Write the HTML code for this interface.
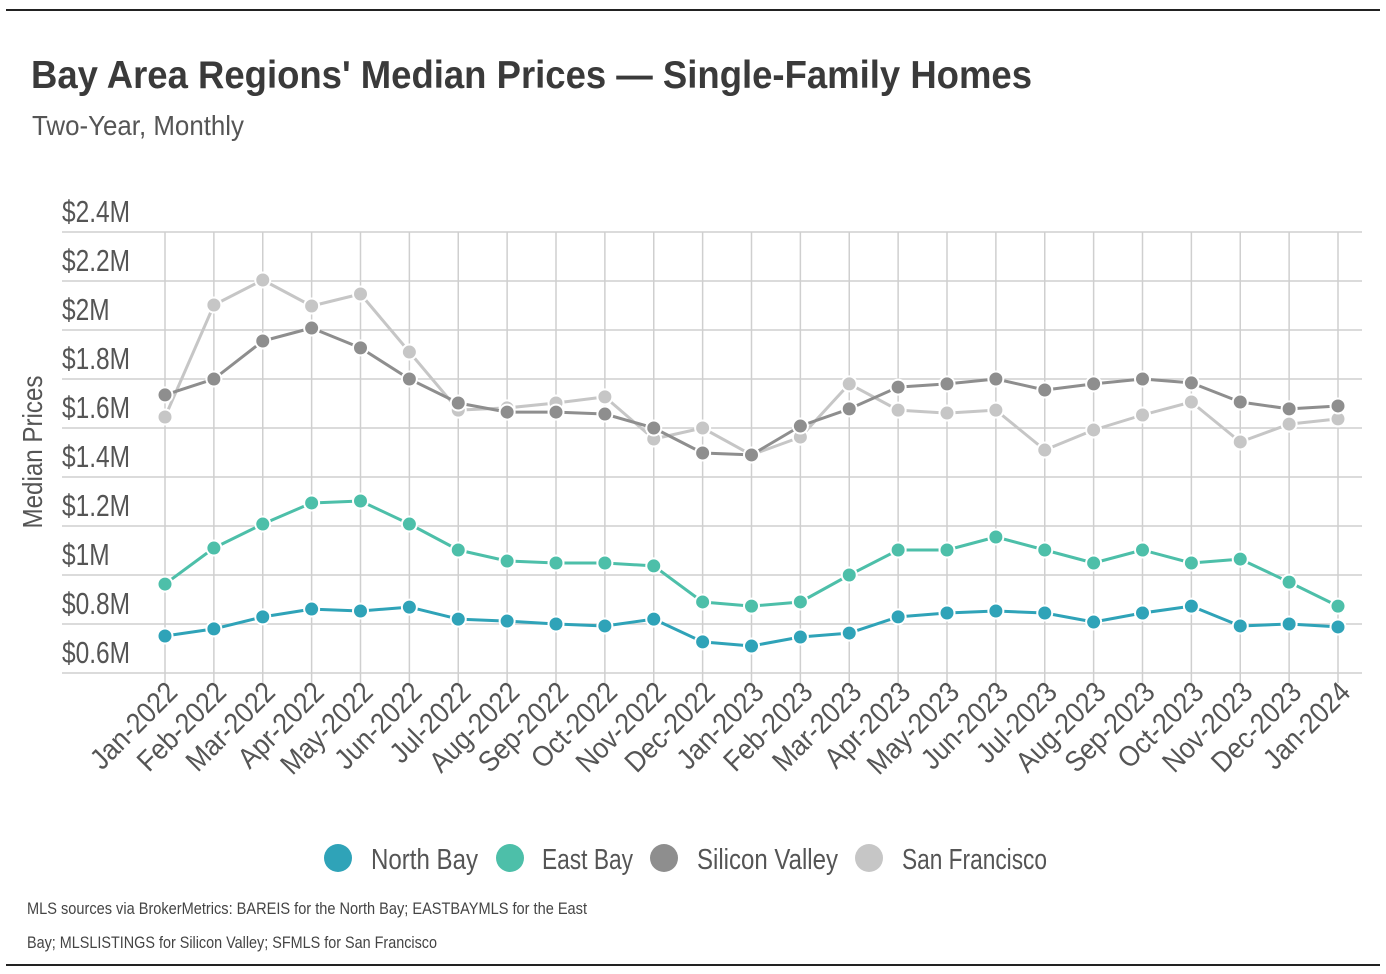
<!DOCTYPE html>
<html><head><meta charset="utf-8"><style>
html,body{margin:0;padding:0;background:#fff;}
body{width:1386px;height:974px;overflow:hidden;position:relative;font-family:"Liberation Sans",sans-serif;}
</style></head><body>
<svg id="chart" width="1386" height="974" viewBox="0 0 1386 974" xmlns="http://www.w3.org/2000/svg" style="position:absolute;left:0;top:0;font-family:'Liberation Sans',sans-serif;">
<line x1="6" y1="10" x2="1380" y2="10" stroke="#222" stroke-width="2"/>
<line x1="6" y1="965" x2="1380" y2="965" stroke="#222" stroke-width="2"/>
<text x="31" y="88" font-size="39" font-weight="bold" fill="#3a3a3a" textLength="1001" lengthAdjust="spacingAndGlyphs">Bay Area Regions' Median Prices — Single-Family Homes</text>
<text x="32" y="135" font-size="28" fill="#555" textLength="212" lengthAdjust="spacingAndGlyphs">Two-Year, Monthly</text>
<text transform="translate(42,452) rotate(-90)" text-anchor="middle" font-size="28" fill="#555" textLength="153" lengthAdjust="spacingAndGlyphs">Median Prices</text>
<g id="grid"></g><g id="axes"></g><g id="series"></g>
<g font-size="29" fill="#555">
<circle cx="338" cy="858" r="14" fill="#2fa3b8"/>
<text x="371" y="869" textLength="107" lengthAdjust="spacingAndGlyphs">North Bay</text>
<circle cx="510" cy="858" r="14" fill="#4dbfa9"/>
<text x="542" y="869" textLength="91" lengthAdjust="spacingAndGlyphs">East Bay</text>
<circle cx="664" cy="858" r="14" fill="#8e8e8e"/>
<text x="697" y="869" textLength="141" lengthAdjust="spacingAndGlyphs">Silicon Valley</text>
<circle cx="869" cy="858" r="14" fill="#c6c6c6"/>
<text x="902" y="869" textLength="145" lengthAdjust="spacingAndGlyphs">San Francisco</text>
</g>
<text x="27" y="914" font-size="17" fill="#444" textLength="560" lengthAdjust="spacingAndGlyphs">MLS sources via BrokerMetrics: BAREIS for the North Bay; EASTBAYMLS for the East</text>
<text x="27" y="948" font-size="17" fill="#444" textLength="410" lengthAdjust="spacingAndGlyphs">Bay; MLSLISTINGS for Silicon Valley; SFMLS for San Francisco</text>
</svg>
<script>
const categories=["Jan-2022","Feb-2022","Mar-2022","Apr-2022","May-2022","Jun-2022","Jul-2022","Aug-2022","Sep-2022","Oct-2022","Nov-2022","Dec-2022","Jan-2023","Feb-2023","Mar-2023","Apr-2023","May-2023","Jun-2023","Jul-2023","Aug-2023","Sep-2023","Oct-2023","Nov-2023","Dec-2023","Jan-2024"];
const northBay=[0.751,0.780,0.829,0.861,0.853,0.869,0.820,0.812,0.800,0.792,0.820,0.727,0.710,0.747,0.763,0.829,0.845,0.853,0.845,0.808,0.845,0.873,0.792,0.800,0.788];
const eastBay=[0.963,1.110,1.208,1.294,1.302,1.208,1.102,1.057,1.049,1.049,1.037,0.890,0.873,0.890,1.000,1.102,1.102,1.155,1.102,1.049,1.102,1.049,1.065,0.971,0.873];
const siliconValley=[1.735,1.800,1.955,2.008,1.927,1.800,1.702,1.665,1.665,1.657,1.600,1.498,1.490,1.608,1.678,1.767,1.780,1.800,1.755,1.780,1.800,1.784,1.706,1.678,1.690];
const sanFrancisco=[1.645,2.102,2.204,2.098,2.147,1.910,1.673,1.682,1.702,1.727,1.555,1.600,1.490,1.563,1.780,1.673,1.661,1.673,1.510,1.592,1.653,1.706,1.543,1.616,1.637];
const yTicks=[0.6,0.8,1.0,1.2,1.4,1.6,1.8,2.0,2.2,2.4];
const yTickLabels=["$0.6M","$0.8M","$1M","$1.2M","$1.4M","$1.6M","$1.8M","$2M","$2.2M","$2.4M"];

const NS="http://www.w3.org/2000/svg";
const X0=165,X1=1338,Y0=673,Y1=232,VMIN=0.6,VMAX=2.4;
function xScale(i){return X0+(X1-X0)*i/(categories.length-1);}
function yScale(v){return Y0-(v-VMIN)/(VMAX-VMIN)*(Y0-Y1);}
function mk(tag,attrs,parent){const e=document.createElementNS(NS,tag);for(const k in attrs)e.setAttribute(k,attrs[k]);parent.appendChild(e);return e;}
function squeeze(t,f){const w=t.getComputedTextLength();t.setAttribute('textLength',(w*f).toFixed(1));t.setAttribute('lengthAdjust','spacingAndGlyphs');}
const grid=document.getElementById('grid'),axes=document.getElementById('axes'),series=document.getElementById('series');
yTicks.forEach((v,i)=>{
  const y=yScale(v);
  const l=mk('line',{x1:62,x2:1362,y1:y,y2:y,stroke:'#cfcfcf','stroke-width':1.5},grid);
  
  
  const t=mk('text',{x:62,y:y-10,'font-size':31,fill:'#555'},axes);
  t.textContent=yTickLabels[i];
  
  
  squeeze(t,0.79);
});
categories.forEach((c,i)=>{
  const x=xScale(i);
  const l=mk('line',{x1:x,x2:x,y1:Y1,y2:Y0+10,stroke:'#cfcfcf','stroke-width':1.5},grid);
  
  
  const t=mk('text',{x:x+14,y:694,'font-size':29,fill:'#555','text-anchor':'end',transform:`rotate(-45 ${x+14} 694)`},axes);
  t.textContent=c;
  
  
  squeeze(t,0.9);
});
const defs=[[sanFrancisco,'#c6c6c6','san-francisco'],[siliconValley,'#8e8e8e','silicon-valley'],[eastBay,'#4dbfa9','east-bay'],[northBay,'#2fa3b8','north-bay']];
defs.forEach(([vals,col,name])=>{
  const g=mk('g',{},series);
  
  
  const d=vals.map((v,i)=>(i?'L':'M')+xScale(i).toFixed(1)+','+yScale(v).toFixed(1)).join(' ');
  const p=mk('path',{d:d,fill:'none',stroke:col,'stroke-width':3,'stroke-linejoin':'round'},g);
  
  
  vals.forEach((v,i)=>{
    const c=mk('circle',{cx:xScale(i),cy:yScale(v),r:7.5,fill:col,stroke:'#fff','stroke-width':2},g);
    
    
  });
});
</script>
</body></html>
